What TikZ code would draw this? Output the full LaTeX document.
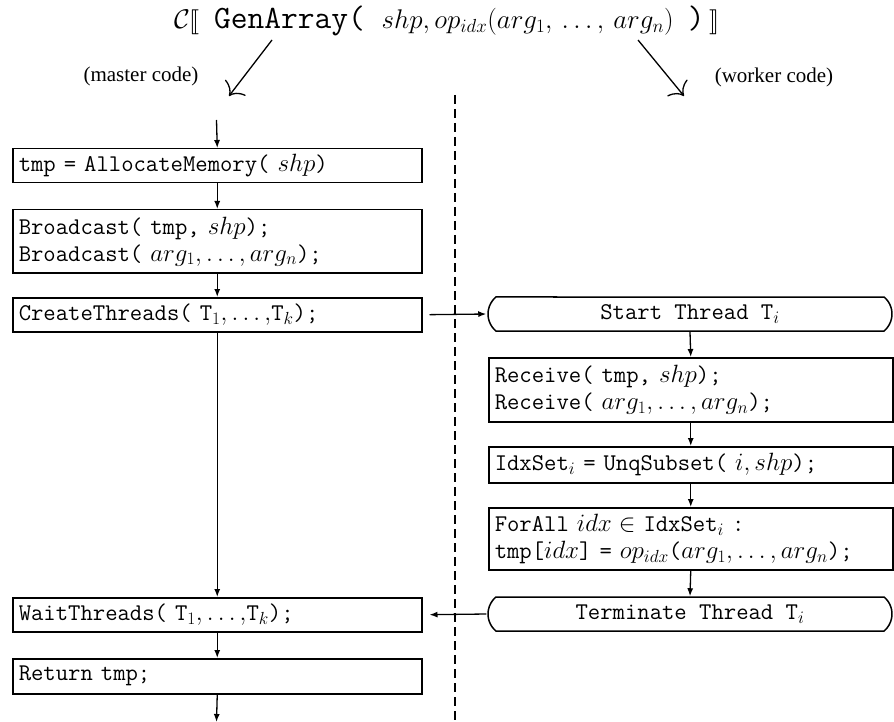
\RequirePackage{fix-cm}
\documentclass[tikz,border=0pt]{standalone}
\usepackage{amsmath}
\usepackage{stmaryrd}
\usepackage{fontspec}
\setmainfont{Liberation Serif}
\setmonofont[Scale=0.96]{Latin Modern Mono}
\usetikzlibrary{arrows.meta,shapes.misc}
\tikzset{
  codefont/.style={font=\fontsize{25}{27}\selectfont\ttfamily},
  codebox/.style={draw, line width=1.5pt, anchor=north west, inner xsep=6pt, inner ysep=0pt,
    align=left, codefont},
  leftbox/.style={codebox, text width=397pt},
  rightbox/.style={codebox, text width=392pt},
  termbox/.style={draw, line width=1.5pt, rounded rectangle, rounded rectangle arc length=100,
    minimum width=404pt, minimum height=34pt, inner sep=0pt, codefont},
  arr/.style={line width=1.3pt, -{Latex[length=8pt,width=6pt]}},
  bigarr/.style={line width=1.3pt, -{Computer Modern Rightarrow[length=11pt,width=26pt]}},
  lbl/.style={font=\fontsize{21}{24}\selectfont},
  divider/.style={line width=1.5pt, dash pattern=on 9pt off 5pt}
}
\newcommand{\titlett}[1]{{\fontsize{33.9}{38}\selectfont\ttfamily #1}}
\begin{document}
\begin{tikzpicture}[x=1pt,y=-1pt]
\useasboundingbox (0,0) rectangle (894,722);
% title
\node[font=\fontsize{27}{32}\selectfont, inner sep=0pt, anchor=west] (title) at (174,21)
  {$\mathcal{C}\llbracket$\hspace{14pt}\titlett{GenArray( }$shp, op_{idx}(arg_1,\,\ldots,\,arg_n)$\hspace{14pt}\titlett{)}\hspace{5pt}$\rrbracket$};
\coordinate (la1) at (272,40);
\coordinate (la2) at (229,96);
\coordinate (ra1) at (638,40);
\coordinate (ra2) at (684,96);
\draw[bigarr] (la1) -- (la2);
\draw[bigarr] (ra1) -- (ra2);
\node[lbl] (master) at (141,76) {(master code)};
\node[lbl] (worker) at (774,77) {(worker code)};
% divider
\coordinate (d1) at (455,95);
\coordinate (d2) at (455,722);
\draw[divider] (d1) -- (d2);
% master column
\coordinate (mtop) at (216.5,120);
\node[leftbox, minimum height=34pt] (m1) at (12,148) {tmp = AllocateMemory( $shp$)};
\node[leftbox, minimum height=63pt] (m2) at (12,209) {Broadcast( tmp, $shp$);\\Broadcast( $arg_1,\ldots,arg_n$);};
\node[leftbox, minimum height=34pt] (m3) at (12,297) {CreateThreads( T$_1,\ldots,$T$_k$);};
\node[leftbox, minimum height=34pt] (m4) at (12,597) {WaitThreads( T$_1,\ldots,$T$_k$);};
\node[leftbox, minimum height=35pt] (m5) at (12,658) {Return tmp;};
\coordinate (mbot) at (216.5,722);
\draw[arr] (mtop) -- (m1.north);
\draw[arr] (m1.south) -- (m2.north);
\draw[arr] (m2.south) -- (m3.north);
\draw[arr] (m3.south) -- (m4.north);
\draw[arr] (m4.south) -- (m5.north);
\draw[arr] (m5.south) -- (mbot);
% worker column
\node[termbox] (ws) at (690,314) {Start Thread T$_i$};
\node[rightbox, minimum height=64pt] (w2) at (488,357) {Receive( tmp, $shp$);\\Receive( $arg_1,\ldots,arg_n$);};
\node[rightbox, minimum height=36pt] (w3) at (488,446) {IdxSet$_i$ = UnqSubset( $i,shp$);};
\node[rightbox, minimum height=62pt] (w4) at (488,507) {ForAll $idx\in$ IdxSet$_i$ :\\tmp[$idx$] = $op_{idx}$($arg_1,\ldots,arg_n$);};
\node[termbox] (wt) at (690,614) {Terminate Thread T$_i$};
\draw[arr] (ws.south) -- (w2.north);
\draw[arr] (w2.south) -- (w3.north);
\draw[arr] (w3.south) -- (w4.north);
\draw[arr] (w4.south) -- (wt.north);
% cross connectors
\draw[arr, shorten <=7pt, shorten >=1pt] (m3.east) -- (ws.west);
\draw[arr, shorten <=1pt, shorten >=7pt] (wt.west) -- (m4.east);
\end{tikzpicture}
\end{document}
